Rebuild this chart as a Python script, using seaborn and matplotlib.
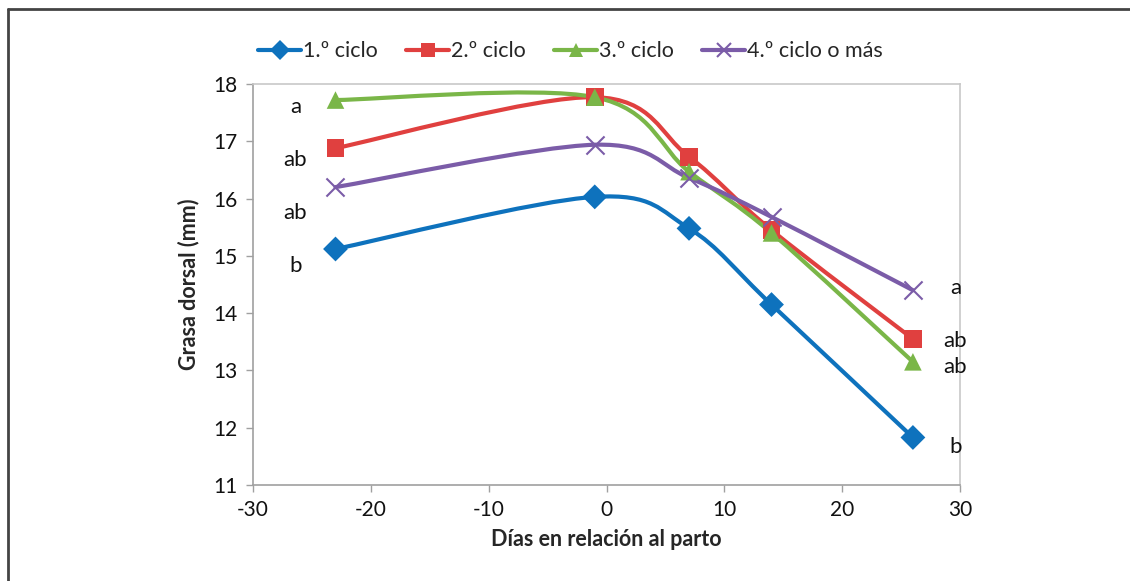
import numpy as np
import pandas as pd
import seaborn as sns
import matplotlib.pyplot as plt
from matplotlib.path import Path
from matplotlib.patches import PathPatch
from matplotlib.lines import Line2D

sns.set_theme(style="white")
plt.rcParams['font.family'] = ['Lato', 'DejaVu Sans']
plt.rcParams['axes.unicode_minus'] = False

dias = [-23, -1, 7, 14, 26]
ciclo1 = [15.12, 16.03, 15.48, 14.15, 11.83]
ciclo2 = [16.88, 17.77, 16.73, 15.45, 13.55]
ciclo3 = [17.72, 17.77, 16.47, 15.40, 13.15]
ciclo4 = [16.20, 16.94, 16.36, 15.68, 14.40]
series = ['1.º ciclo', '2.º ciclo', '3.º ciclo', '4.º ciclo o más']
colores = ['#0E72BD', '#E0403F', '#7AB648', '#7B5CA8']
marcadores = ['D', 's', '^', 'x']

letras_izq = ['a', 'ab', 'ab', 'b']
letras_izq_y = [17.60, 16.67, 15.75, 14.82]
letras_der = ['a', 'ab', 'ab', 'b']
letras_der_y = [14.44, 13.51, 13.06, 11.67]

df = pd.DataFrame({
    'dias': dias * 4,
    'grasa': ciclo1 + ciclo2 + ciclo3 + ciclo4,
    'serie': np.repeat(series, len(dias)),
})


def suave(ax, xs, ys, color):
    # Excel-like smoothed line: cubic Bezier segments through the points
    p = np.column_stack([xs, ys]).astype(float)
    p_ext = np.vstack([p[0], p, p[-1]])
    verts = [p[0]]
    codes = [Path.MOVETO]
    for i in range(len(p) - 1):
        a, b, c, d = p_ext[i], p_ext[i + 1], p_ext[i + 2], p_ext[i + 3]
        verts += [b + (c - a) / 6, c - (d - b) / 6, c]
        codes += [Path.CURVE4] * 3
    ax.add_patch(PathPatch(Path(verts, codes), fill=False, edgecolor=color,
                           lw=3, capstyle='round', joinstyle='round', zorder=2))


fig = plt.figure(figsize=(11.3, 5.81), dpi=100)
ax = fig.add_axes([0.2239, 0.1652, 0.6257, 0.6902])

for s, c in zip(series, colores):
    sub = df[df['serie'] == s]
    suave(ax, sub['dias'].values, sub['grasa'].values, c)

rellenos = df[df['serie'] != series[3]]
sns.scatterplot(data=rellenos, x='dias', y='grasa', hue='serie', style='serie',
                palette=colores[:3], markers=dict(zip(series[:3], marcadores[:3])),
                s=160, linewidth=0, legend=False, ax=ax, zorder=3)
sub4 = df[df['serie'] == series[3]]
sns.scatterplot(data=sub4, x='dias', y='grasa', marker='x', s=170,
                color=colores[3], linewidth=1.5, legend=False, ax=ax, zorder=4)

for t, y in zip(letras_izq, letras_izq_y):
    ax.text(-26.4, y, t, fontsize=16, ha='center', va='center', color='#111111')
for t, y in zip(letras_der, letras_der_y):
    ax.text(29.6, y, t, fontsize=16, ha='center', va='center', color='#111111')

ax.set_xlim(-30, 30)
ax.set_ylim(11, 18)
ax.set_xticks(range(-30, 31, 10))
ax.set_yticks(range(11, 19))
ax.tick_params(axis='both', labelsize=15, length=5, width=1, color='#A0A0A0',
               direction='out', bottom=True, left=True, pad=6, labelcolor='#111111')
for sp in ax.spines.values():
    sp.set_color('#C8C8C8')
    sp.set_linewidth(1.2)
ax.spines['left'].set_color('#A0A0A0')
ax.spines['bottom'].set_color('#A0A0A0')
ax.set_xlabel('Días en relación al parto', fontsize=15.5, fontweight='bold', labelpad=6)
ax.set_ylabel('Grasa dorsal (mm)', fontsize=15.5, fontweight='bold', labelpad=10)

handles = [Line2D([0], [0], color=c, lw=3, marker=m, markersize=10,
                  markeredgewidth=1.5 if m == 'x' else 0)
           for c, m in zip(colores, marcadores)]
fig.legend(handles, series, loc='center', bbox_to_anchor=(0.505, 0.912), ncol=4,
           frameon=False, fontsize=15.5, handlelength=2.0, handletextpad=0.1,
           columnspacing=1.3)

# outer frame (top and left only)
fig.add_artist(Line2D([0.007, 1.0], [0.985, 0.985], color='#444444', lw=2,
                      transform=fig.transFigure))
fig.add_artist(Line2D([0.007, 0.007], [0.0, 0.985], color='#444444', lw=2,
                      transform=fig.transFigure))

plt.savefig('out.png', dpi=100)
